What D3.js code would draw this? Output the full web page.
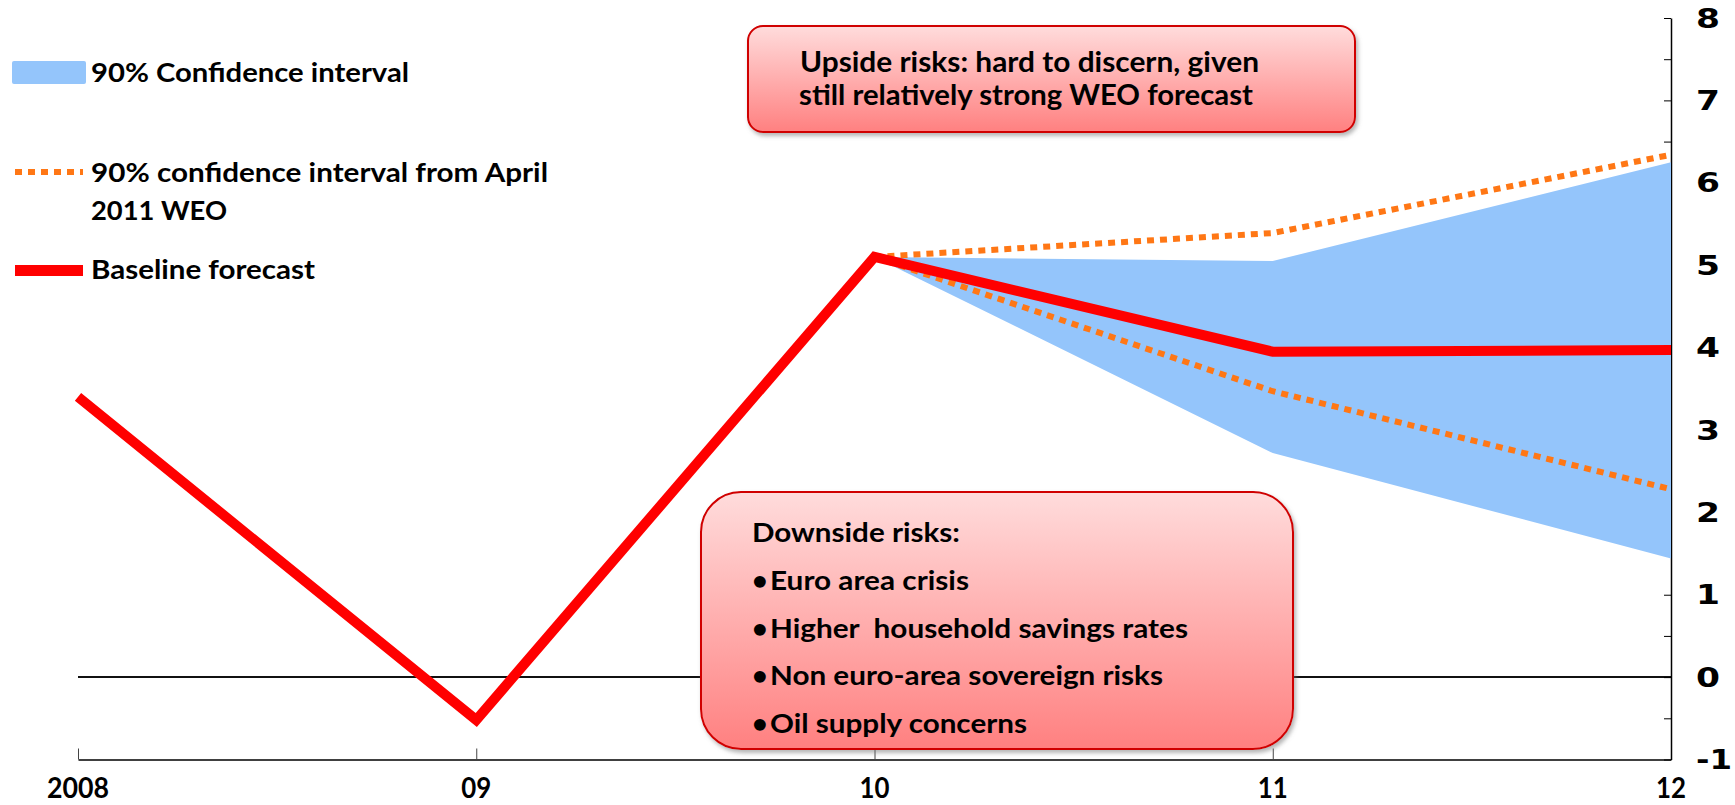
<!DOCTYPE html>
<html>
<head>
<meta charset="utf-8">
<script src="https://cdn.jsdelivr.net/npm/d3@7"></script>
<style>
  body { margin: 0; background: #fff; }
  svg { display: block; }
  text { font-family: Lato, "Open Sans", sans-serif; font-weight: bold; fill: #000; white-space: pre; }
</style>
</head>
<body>
<div id="chart"></div>
<script>
// data
var years = [2008, 2009, 2010, 2011, 2012];
var yearLabels = ["2008", "09", "10", "11", "12"];
var baseline = [3.4, -0.52, 5.1, 3.95, 3.97];

var ciYears = [2010, 2011, 2012];
var ciUpper = [5.1, 5.05, 6.25];
var ciLower = [5.1, 2.72, 1.44];
var aprilUpper = [5.1, 5.39, 6.34];
var aprilLower = [5.1, 3.47, 2.28];

var yLabels = [-1, 0, 1, 2, 3, 4, 5, 6, 7, 8];
var yMinor = d3.range(-1, 8.01, 0.5);

var downsideItems = ["Euro area crisis", "Higher  household savings rates",
  "Non euro-area sovereign risks", "Oil supply concerns"];

var width = 1735, height = 805;
var blue = "#94C5FB", orange = "#FF7715", red = "#FF0000";

var svg = d3.select("#chart").append("svg")
  .attr("width", width)
  .attr("height", height);

var defs = svg.append("defs");
var grad = defs.append("linearGradient").attr("id", "boxfill")
  .attr("x1", 0).attr("y1", 0).attr("x2", 0).attr("y2", 1);
grad.append("stop").attr("offset", "0%").attr("stop-color", "#FFDCDC");
grad.append("stop").attr("offset", "100%").attr("stop-color", "#FF8080");
defs.append("filter").attr("id", "shadow")
  .attr("x", "-5%").attr("y", "-5%").attr("width", "115%").attr("height", "125%")
  .append("feDropShadow")
  .attr("dx", 2).attr("dy", 3).attr("stdDeviation", 2)
  .attr("flood-color", "#777").attr("flood-opacity", 0.55);

var x = d3.scaleLinear().domain([2008, 2012]).range([78, 1671]);
var y = d3.scaleLinear().domain([-1, 8]).range([759.5, 18]);

// zero line
svg.append("line")
  .attr("x1", x(2008)).attr("x2", x(2012))
  .attr("y1", y(0)).attr("y2", y(0))
  .style("stroke", "#111").style("stroke-width", 2);

// bottom axis, ticks pointing up
var xAxis = svg.append("g")
  .attr("transform", "translate(0," + y(-1) + ")")
  .call(d3.axisBottom(x).tickValues(years).tickSize(-11).tickSizeOuter(0).tickFormat(""));
xAxis.select(".domain").style("stroke", "#000").style("stroke-width", 1.5);
xAxis.selectAll(".tick line").style("stroke", "#444");

svg.append("g").selectAll("text")
  .data(years)
  .enter()
  .append("text")
  .attr("x", (d) => x(d))
  .attr("y", 798)
  .attr("text-anchor", "middle")
  .attr("textLength", (d, i) => (yearLabels[i].length > 2 ? 62 : 30))
  .attr("lengthAdjust", "spacingAndGlyphs")
  .style("font-size", "29px")
  .text((d, i) => yearLabels[i]);

// right axis, ticks pointing inward
var yAxis = svg.append("g")
  .attr("transform", "translate(" + x(2012) + ",0)")
  .call(d3.axisLeft(y).tickValues(yMinor).tickSize(7).tickSizeOuter(0).tickFormat(""));
yAxis.select(".domain").style("stroke", "#000").style("stroke-width", 1.5);
yAxis.selectAll(".tick line").style("stroke", "#000");

svg.append("g").selectAll("text")
  .data(yLabels)
  .enter()
  .append("text")
  .attr("x", 1696)
  .attr("y", (d) => y(d))
  .attr("dy", "0.36em")
  .attr("textLength", (d) => (d < 0 ? 36 : 24))
  .attr("lengthAdjust", "spacingAndGlyphs")
  .style("font-family", "'DejaVu Sans', sans-serif")
  .style("font-size", "27px")
  .text((d) => d);

// confidence band
var ci = ciYears.map((d, i) => ({ year: d, lo: ciLower[i], hi: ciUpper[i] }));
svg.append("path")
  .datum(ci)
  .attr("d", d3.area().x((d) => x(d.year)).y0((d) => y(d.lo)).y1((d) => y(d.hi)))
  .style("fill", blue);

// April 2011 WEO interval
var line = d3.line().x((d) => x(d[0])).y((d) => y(d[1]));
[aprilUpper, aprilLower].forEach(function (s) {
  svg.append("path")
    .datum(ciYears.map((d, i) => [d, s[i]]))
    .attr("d", line)
    .style("fill", "none")
    .style("stroke", orange)
    .style("stroke-width", 6)
    .style("stroke-dasharray", "7,6");
});

// baseline forecast
svg.append("path")
  .datum(years.map((d, i) => [d, baseline[i]]))
  .attr("d", line)
  .style("fill", "none")
  .style("stroke", red)
  .style("stroke-width", 10)
  .style("stroke-linejoin", "miter");

// legend
var legend = svg.append("g");
legend.append("rect").attr("x", 12).attr("y", 61).attr("width", 74).attr("height", 23)
  .attr("rx", 2).style("fill", blue);
legend.append("line").attr("x1", 15).attr("x2", 83).attr("y1", 172).attr("y2", 172)
  .style("stroke", orange).style("stroke-width", 6).style("stroke-dasharray", "7,6");
legend.append("rect").attr("x", 15).attr("y", 265).attr("width", 68).attr("height", 11)
  .style("fill", red);

var legendText = [
  { t: "90% Confidence interval", y: 82, w: 318 },
  { t: "90% confidence interval from April", y: 182, w: 457 },
  { t: "2011 WEO", y: 220, w: 136 },
  { t: "Baseline forecast", y: 279, w: 224 }
];
legend.selectAll("text")
  .data(legendText)
  .enter()
  .append("text")
  .attr("x", 91)
  .attr("y", (d) => d.y)
  .attr("textLength", (d) => d.w)
  .attr("lengthAdjust", "spacingAndGlyphs")
  .style("font-size", "27px")
  .text((d) => d.t);

// annotation boxes
function box(x0, y0, w, h, r) {
  var g = svg.append("g");
  g.append("rect")
    .attr("x", x0).attr("y", y0).attr("width", w).attr("height", h)
    .attr("rx", r).attr("ry", r)
    .style("fill", "url(#boxfill)")
    .style("stroke", "#D00000")
    .style("stroke-width", 2)
    .attr("filter", "url(#shadow)");
  return g;
}

var up = box(748, 26, 607, 106, 15);
up.append("text").attr("x", 800).attr("y", 72)
  .attr("textLength", 459).attr("lengthAdjust", "spacingAndGlyphs")
  .style("font-size", "28px")
  .text("Upside risks: hard to discern, given");
up.append("text").attr("x", 799).attr("y", 105)
  .attr("textLength", 454).attr("lengthAdjust", "spacingAndGlyphs")
  .style("font-size", "28px")
  .text("still relatively strong WEO forecast");

var down = box(701, 492, 592, 257, 40);
down.append("text").attr("x", 752).attr("y", 542)
  .attr("textLength", 208).attr("lengthAdjust", "spacingAndGlyphs")
  .style("font-size", "26px")
  .text("Downside risks:");
var itemY = [590, 638, 685, 733];
var itemW = [199, 418, 393, 257];
down.selectAll("text.bullet")
  .data(downsideItems)
  .enter()
  .append("text")
  .attr("class", "bullet")
  .attr("x", 752)
  .attr("y", (d, i) => itemY[i])
  .style("font-size", "27px")
  .text("\u2022");
down.selectAll("text.item")
  .data(downsideItems)
  .enter()
  .append("text")
  .attr("class", "item")
  .attr("x", 770)
  .attr("y", (d, i) => itemY[i])
  .attr("textLength", (d, i) => itemW[i])
  .attr("lengthAdjust", "spacingAndGlyphs")
  .style("font-size", "26px")
  .text((d) => d);
</script>
</body>
</html>
